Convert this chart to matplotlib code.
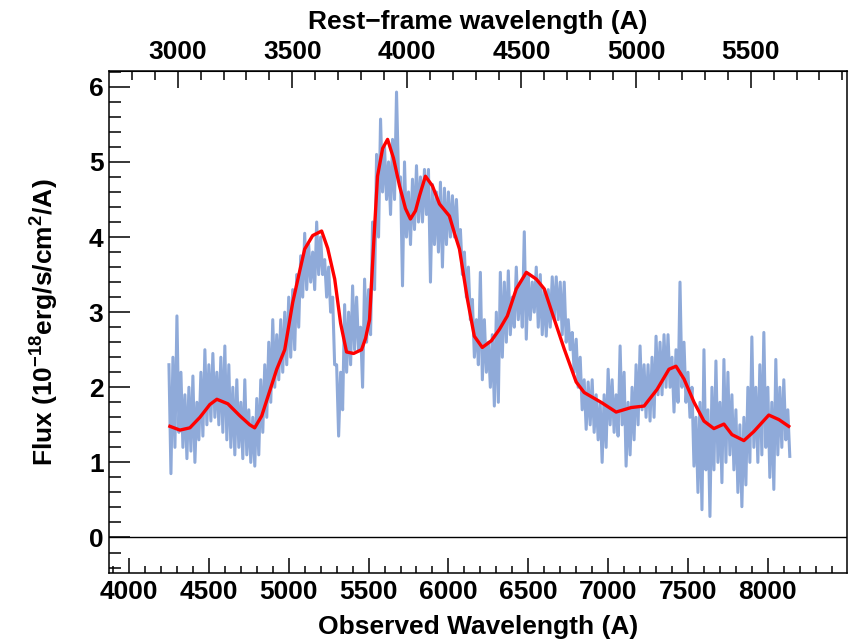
import numpy as np
import matplotlib
matplotlib.use("Agg")
from matplotlib import pyplot as plt
from matplotlib.ticker import MultipleLocator

plt.rcParams['font.family'] = ['Liberation Sans', 'DejaVu Sans']
plt.rcParams['font.weight'] = 'bold'
plt.rcParams['mathtext.fontset'] = 'custom'
plt.rcParams['mathtext.bf'] = 'Liberation Sans:bold'
plt.rcParams['mathtext.rm'] = 'Liberation Sans:bold'
plt.rcParams['mathtext.default'] = 'bf'

redshift = 0.435
rest_ticks = [3000, 3500, 4000, 4500, 5000, 5500]

# noisy spectrum: upper / lower excursions every 25 A starting at 4250 A
spec_start = 4250
spec_step = 25
spec_hi = [2.3, 2.4, 2.95, 2.2,  1.9, 2.0, 2.15, 1.8,  2.2, 2.5, 2.3, 2.45,
           2.2, 2.4, 2.55, 2.3,  2.0, 2.1, 1.8, 2.1,  1.7, 1.6, 1.85, 2.1,
           2.3, 2.6, 2.9, 2.7,  2.9, 3.0, 3.2, 3.3,  3.5, 3.75, 4.05, 3.9,
           3.8, 4.2, 4.0, 3.7,  3.6, 3.2, 2.3, 2.2,  3.1, 3.0, 3.35, 3.2,
           2.8, 3.44, 3.3, 4.2,  5.1, 5.57, 5.2, 5.0,  5.3, 5.93, 4.8, 5.0,
           4.6, 4.77, 4.95, 4.8,  4.9, 4.9, 4.7, 4.6,  4.73, 4.65, 4.6, 4.55,
           4.5, 4.1, 3.8, 3.6,  3.17, 2.9, 3.53, 2.9,  2.6, 2.7, 3.0, 3.53,
           3.4, 3.55, 3.2, 3.6,  3.4, 4.07, 3.5, 3.4,  3.6, 3.5, 3.3, 3.3,
           3.47, 3.47, 3.4, 3.4,  2.9, 2.73, 2.64, 2.4,  2.1, 2.07, 2.1, 1.9,
           1.8, 1.9, 2.24, 2.1,  1.9, 2.55, 2.2, 1.8,  2.0, 2.3, 2.55, 2.3,
           2.3, 2.4, 2.68, 2.6,  2.7, 2.7, 2.4, 2.5,  3.4, 2.6, 2.2, 2.0,
           1.6, 1.8, 2.5, 1.7,  2.0, 2.35, 1.8, 2.37,  2.2, 1.9, 1.7, 1.5,
           1.6, 2.0, 2.67, 2.0,  2.3, 2.73, 2.0, 1.8,  2.37, 2.0, 2.1, 1.7]
spec_lo = [0.85, 1.2, 1.4, 1.2,  1.05, 1.15, 1.0, 1.3,  1.35, 1.5, 1.55, 1.6,
           1.5, 1.4, 1.3, 1.2,  1.1, 1.2, 1.05, 1.1,  1.0, 0.95, 1.1, 1.4,
           1.6, 1.8, 2.0, 2.1,  2.2, 2.3, 2.4, 2.5,  2.8, 3.2, 3.3, 3.4,
           3.3, 3.5, 3.5, 3.2,  3.0, 2.3, 1.35, 1.7,  2.2, 2.3, 2.5, 2.5,
           2.0, 2.6, 2.7, 3.3,  4.0, 4.6, 4.5, 4.3,  4.5, 4.8, 3.35, 4.0,
           3.9, 4.1, 4.2, 4.2,  4.3, 3.4, 3.9, 3.8,  3.6, 3.9, 4.0, 4.0,
           3.9, 3.5, 3.2, 2.9,  2.4, 2.3, 2.1, 2.2,  2.0, 1.75, 1.8, 2.4,
           2.6, 2.7, 2.8, 2.9,  2.8, 2.64, 2.9, 3.0,  2.8, 2.7, 2.68, 2.8,
           2.9, 2.9, 2.7, 2.6,  2.5, 2.2, 2.0, 1.7,  1.44, 1.5, 1.4, 1.3,
           1.0, 1.2, 1.5, 1.4,  1.35, 1.5, 0.95, 1.1,  1.3, 1.5, 1.7, 1.6,
           1.55, 1.6, 1.9, 1.9,  2.0, 2.0, 1.67, 1.8,  2.0, 1.8, 1.6, 0.95,
           0.6, 0.37, 0.9, 0.28,  0.9, 1.0, 0.73, 1.0,  1.1, 0.9, 0.6, 0.41,
           0.7, 1.0, 1.2, 1.0,  1.1, 1.2, 0.8, 0.64,  1.1, 1.2, 1.3, 1.08]

# smoothed fit
fit_wave = [4256, 4319, 4381, 4444, 4506, 4550, 4619, 4694, 4756, 4787,
            4831, 4881, 4925, 4975, 5025, 5069, 5100, 5150, 5206, 5244,
            5288, 5325, 5362, 5406, 5456, 5481, 5506, 5531, 5556, 5588,
            5619, 5656, 5694, 5731, 5762, 5794, 5819, 5856, 5900, 5944,
            6006, 6038, 6069, 6119, 6162, 6212, 6269, 6319, 6369, 6425,
            6488, 6550, 6600, 6662, 6725, 6800, 6850, 6956, 7050, 7144,
            7225, 7306, 7381, 7425, 7475, 7538, 7600, 7662, 7725, 7775,
            7850, 7912, 8006, 8069, 8131]
fit_flux = [1.48, 1.43, 1.46, 1.60, 1.77, 1.84, 1.78, 1.62, 1.50, 1.46,
            1.62, 1.95, 2.24, 2.50, 3.13, 3.55, 3.84, 4.02, 4.08, 3.85,
            3.44, 2.85, 2.47, 2.45, 2.50, 2.65, 2.90, 3.88, 4.81, 5.18,
            5.30, 5.05, 4.68, 4.38, 4.24, 4.35, 4.55, 4.81, 4.68, 4.44,
            4.28, 4.05, 3.84, 3.17, 2.68, 2.53, 2.62, 2.77, 2.95, 3.31,
            3.53, 3.44, 3.31, 2.91, 2.51, 2.07, 1.93, 1.80, 1.67, 1.73,
            1.75, 1.97, 2.24, 2.28, 2.11, 1.80, 1.55, 1.45, 1.51, 1.37,
            1.29, 1.41, 1.63, 1.57, 1.48]

spec_x = spec_start + spec_step * np.arange(len(spec_hi))
zig_x = np.column_stack([spec_x, spec_x + spec_step / 2]).ravel()
zig_y = np.column_stack([spec_hi, spec_lo]).ravel()

fig = plt.figure(figsize=(8.52, 6.4), dpi=100)
ax = fig.add_axes([0.128, 0.105, 0.866, 0.784])

ax.plot(zig_x, zig_y, color='#7b9bd3', lw=2.2, alpha=0.85, solid_joinstyle='round')
ax.plot(fit_wave, fit_flux, color='#ff0000', lw=2.4, solid_joinstyle='round')
ax.axhline(0, color='black', lw=1.0)

ax.set_xlim(3875, 8495)
ax.set_ylim(-0.47, 6.21)

ax.xaxis.set_major_locator(MultipleLocator(500))
ax.xaxis.set_minor_locator(MultipleLocator(100))
ax.yaxis.set_major_locator(MultipleLocator(1))
ax.yaxis.set_minor_locator(MultipleLocator(0.2))
ax.tick_params(axis='x', which='major', direction='in', length=11, width=1.1,
               labelsize=19, pad=5, top=False)
ax.tick_params(axis='x', which='minor', direction='in', length=5, width=1.1, top=False)
ax.tick_params(axis='y', which='major', direction='in', length=15, width=1.1,
               labelsize=19, pad=4, right=False)
ax.tick_params(axis='y', which='minor', direction='in', length=8.5, width=1.1, right=False)
for s in ax.spines.values():
    s.set_linewidth(1.1)

ax.set_xlabel('Observed Wavelength (A)', fontsize=19, fontweight='bold', labelpad=8)
ax.set_ylabel('Flux (10$^{-18}$erg/s/cm$^2$/A)', fontsize=19, fontweight='bold', labelpad=20)

top = ax.secondary_xaxis('top', functions=(lambda w: w / (1 + redshift),
                                           lambda w: w * (1 + redshift)))
top.set_xticks(rest_ticks)
top.xaxis.set_minor_locator(MultipleLocator(100))
top.tick_params(which='major', direction='in', length=12, width=1.1, labelsize=19, pad=5)
top.tick_params(which='minor', direction='in', length=6.5, width=1.1)
top.set_xlabel('Rest\u2212frame wavelength (A)', fontsize=19, fontweight='bold', labelpad=8)

fig.savefig('out.png', dpi=100)
